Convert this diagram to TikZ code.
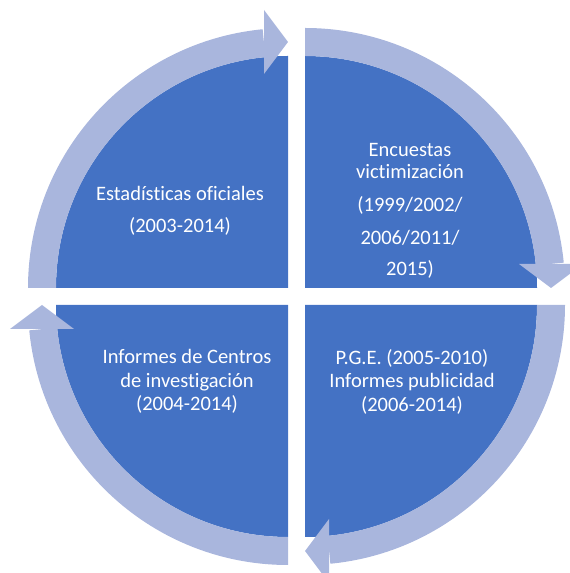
\documentclass[tikz,border=0pt]{standalone}
\usepackage{fontspec}
\setmainfont{Carlito}[Ligatures={NoCommon}]
\usetikzlibrary{calc}
\definecolor{quadblue}{RGB}{68,114,196}
\definecolor{ringblue}{RGB}{169,182,221}
\tikzset{
  quad/.style={fill=quadblue},
  ring/.style={fill=ringblue},
  label/.style={text=white, align=center, font=\fontsize{20.5}{23.5}\selectfont, inner sep=0pt}
}
% #1 corner x, #2 corner y, #3 start angle (arrow runs clockwise 90 degrees)
\newcommand{\ringarrow}[3]{%
  \pgfmathsetmacro{\aend}{#3-84.4}%
  \fill[ring] ($(#1,#2)+(#3:232pt)$) arc[start angle=#3, end angle=\aend, radius=232pt]
     -- ($(#1,#2)+(\aend:260pt)$) arc[start angle=\aend, end angle=#3, radius=260pt] -- cycle;
  \fill[ring] ($(#1,#2)+(#3-90:246pt)$)
     -- ($(#1,#2)+(#3-90:278pt)+(#3:24pt)$)
     -- ($(#1,#2)+(#3-90:214pt)+(#3:24pt)$) -- cycle;
}
\begin{document}
\begin{tikzpicture}[x=1pt,y=1pt]
\useasboundingbox (0,0) rectangle (570,573);
% quadrants
\fill[quad] (288,285) -- ++(-232pt,0) arc[start angle=180, end angle=90, radius=232pt] -- cycle;
\fill[quad] (305,285) -- ++(0,232pt) arc[start angle=90, end angle=0, radius=232pt] -- cycle;
\fill[quad] (305,268) -- ++(232pt,0) arc[start angle=0, end angle=-90, radius=232pt] -- cycle;
\fill[quad] (288,268) -- ++(0,-232pt) arc[start angle=-90, end angle=-180, radius=232pt] -- cycle;
% ring arrows
\ringarrow{288}{285}{180}
\ringarrow{305}{285}{90}
\ringarrow{305}{268}{0}
\ringarrow{288}{268}{-90}
% labels
\node[label] (tl) at (180,362) {Estadísticas oficiales\\[8.5pt](2003-2014)};
\node[label] (tr) at (410,362) {Encuestas\\[-1.5pt]victimización\\[9.5pt](1999/2002/\\[9.5pt]2006/2011/\\[7pt]2015)};
\node[label] (br) at (412,191.5) {P.G.E. (2005-2010)\\Informes publicidad\\(2006-2014)};
\node[label] (bl) at (187,191.5) {Informes de Centros\\de investigación\\(2004-2014)};
\end{tikzpicture}
\end{document}
